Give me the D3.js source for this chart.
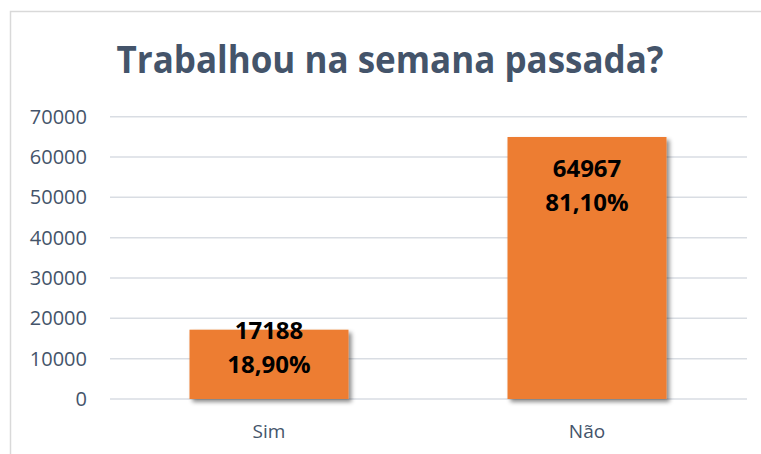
<!DOCTYPE html>
<meta charset="utf-8">
<title>Trabalhou na semana passada?</title>
<style>
  body { margin: 0; background: #fff; }
</style>
<body>
<script src="https://d3js.org/d3.v7.min.js"></script>
<script>
// data
var categories = ['Sim', 'Não'];
var values = [17188, 64967];
var percents = ['18,90%', '81,10%'];
var yTicks = [0, 10000, 20000, 30000, 40000, 50000, 60000, 70000];

var width = 761,
    height = 454;

var svg = d3.select('body').append('svg')
    .attr('width', width)
    .attr('height', height)
    .style('display', 'block')
    .style('font-family', '"Open Sans", sans-serif');

// drop shadow for bars
var defs = svg.append('defs');
var f = defs.append('filter').attr('id', 'shadow')
    .attr('x', '-10%').attr('y', '-10%').attr('width', '130%').attr('height', '130%');
f.append('feDropShadow')
    .attr('dx', 3).attr('dy', 3)
    .attr('stdDeviation', 2)
    .attr('flood-color', '#000')
    .attr('flood-opacity', 0.45);

// chart border
svg.append('rect')
    .attr('x', 10.5).attr('y', 11.5)
    .attr('width', 800).attr('height', 500)
    .style('fill', 'none')
    .style('stroke', '#d9d9d9')
    .style('stroke-width', 1.5);

// title
svg.append('text')
    .attr('x', 390)
    .attr('y', 73)
    .attr('text-anchor', 'middle')
    .attr('textLength', 547)
    .attr('lengthAdjust', 'spacingAndGlyphs')
    .style('font-size', '38px')
    .style('font-weight', 'bold')
    .style('fill', '#44546a')
    .text('Trabalhou na semana passada?');

var x = d3.scaleBand()
    .domain(categories)
    .range([110, 746])
    .paddingInner(0.5)
    .paddingOuter(0.25);

var y = d3.scaleLinear()
    .domain([0, 70000])
    .range([399, 116.7]);

// gridlines
svg.selectAll('.grid')
    .data(yTicks)
    .enter().append('line')
    .attr('x1', 110).attr('x2', 747)
    .attr('y1', function(d) { return y(d); })
    .attr('y2', function(d) { return y(d); })
    .style('stroke', '#d9dde3')
    .style('stroke-width', 1.5);

// y axis labels
var yAxis = d3.axisLeft(y).tickValues(yTicks).tickSize(0).tickPadding(0)
    .tickFormat(d3.format('d'));
var gy = svg.append('g').attr('transform', 'translate(87,0)').call(yAxis);
gy.select('.domain').remove();
gy.selectAll('text')
    .style('font-family', '"Open Sans", sans-serif')
    .style('font-size', '20px')
    .style('fill', '#44546a');

// x axis labels
var xAxis = d3.axisBottom(x).tickSize(0).tickPadding(0);
var gx = svg.append('g').attr('transform', 'translate(0,424)').call(xAxis);
gx.select('.domain').remove();
gx.selectAll('text')
    .style('font-family', '"Open Sans", sans-serif')
    .style('font-size', '19px')
    .style('fill', '#44546a');

// bars
svg.selectAll('.bar')
    .data(values)
    .enter().append('rect')
    .attr('x', function(d, i) { return x(categories[i]); })
    .attr('y', function(d) { return y(d); })
    .attr('width', x.bandwidth())
    .attr('height', function(d) { return y(0) - y(d); })
    .style('fill', '#ed7d31')
    .attr('filter', 'url(#shadow)');

// labels
values.forEach(function(d, i) {
  var top = y(d);
  var off = (y(0) - top) > 100 ? 40 : 9;
  var cx = x(categories[i]) + x.bandwidth() / 2;
  svg.append('text')
      .attr('x', cx).attr('y', top + off)
      .attr('text-anchor', 'middle')
      .style('font-size', '24px').style('font-weight', 'bold').style('fill', '#000')
      .text(d);
  svg.append('text')
      .attr('x', cx).attr('y', top + off + 34)
      .attr('text-anchor', 'middle')
      .style('font-size', '24px').style('font-weight', 'bold').style('fill', '#000')
      .text(percents[i]);
});
</script>
</body>
